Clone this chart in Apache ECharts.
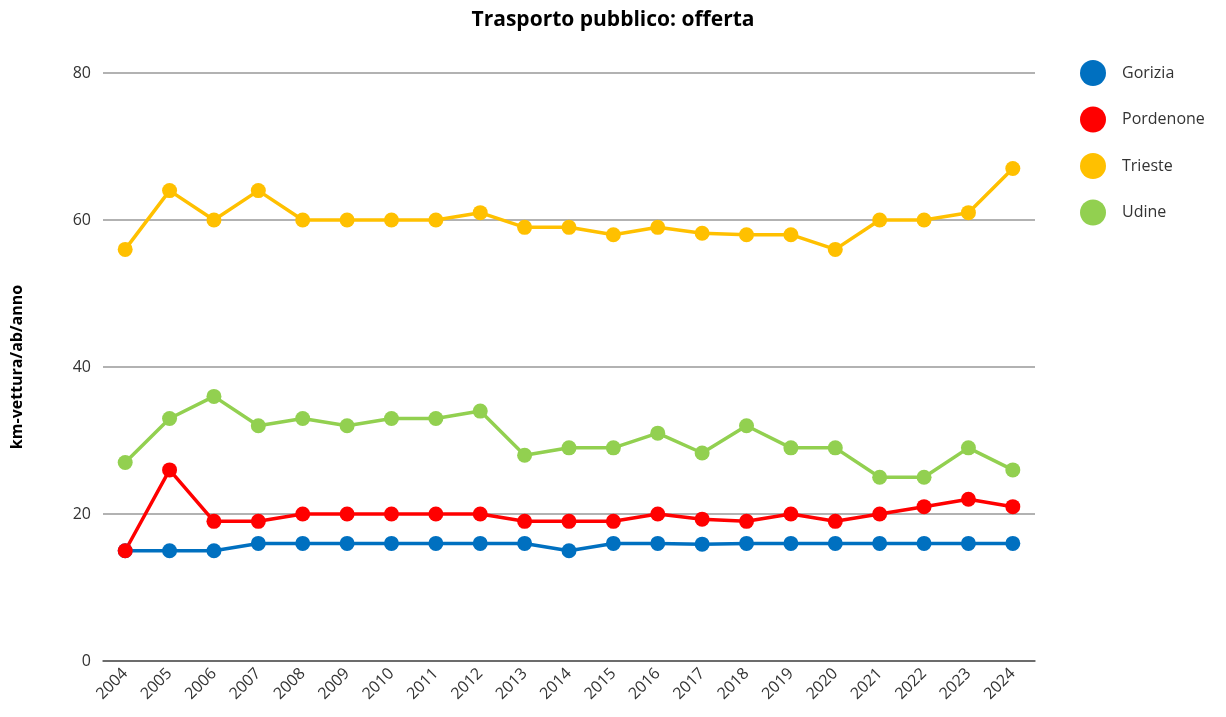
<!DOCTYPE html>
<html>
<head>
<meta charset="utf-8">
<script src="https://cdn.jsdelivr.net/npm/echarts@6/dist/echarts.min.js"></script>
<style>html,body{margin:0;padding:0;background:#fff}#c{width:1226px;height:717px}</style>
</head>
<body>
<div id="c"></div>
<script>
const years = ['2004','2005','2006','2007','2008','2009','2010','2011','2012','2013','2014','2015','2016','2017','2018','2019','2020','2021','2022','2023','2024'];
const gorizia   = [15,15,15,16,16,16,16,16,16,16,15,16,16,15.9,16,16,16,16,16,16,16];
const pordenone = [15,26,19,19,20,20,20,20,20,19,19,19,20,19.3,19,20,19,20,21,22,21];
const trieste   = [56,64,60,64,60,60,60,60,61,59,59,58,59,58.2,58,58,56,60,60,61,67];
const udine     = [27,33,36,32,33,32,33,33,34,28,29,29,31,28.3,32,29,29,25,25,29,26];
const seriesNames = ['Gorizia','Pordenone','Trieste','Udine'];
const colors = ['#0070C0','#FF0000','#FFC000','#92D050'];
const yTicks = {min:0, max:80, interval:20};

const font = '"Open Sans", "Noto Sans", sans-serif';
const chart = echarts.init(document.getElementById('c'), null, {renderer:'canvas'});
const mk = (name, data, color) => ({
  name, type:'line', data, color,
  symbol:'circle', symbolSize:15,
  lineStyle:{width:3.5, color},
  itemStyle:{color},
  emphasis:{disabled:true}
});
chart.setOption({
  animation:false,
  title:{text:'Trasporto pubblico: offerta', left:'center', top:5,
    textStyle:{fontFamily:font, fontSize:21, fontWeight:'bold', color:'#000'}},
  legend:{orient:'vertical', left:1075, top:55, icon:'circle', itemWidth:26, itemHeight:26, itemGap:20.5,
    data:seriesNames,
    textStyle:{fontFamily:font, fontSize:16, color:'#333', padding:[0,0,0,11]}},
  grid:{left:103, right:191, top:73, bottom:56, containLabel:false},
  xAxis:{type:'category', data:years, boundaryGap:true,
    axisLine:{lineStyle:{color:'#555', width:1.5}},
    axisTick:{show:false},
    axisLabel:{rotate:45, fontFamily:font, fontSize:16, color:'#333', margin:10, interval:0}},
  yAxis:{type:'value', min:yTicks.min, max:yTicks.max, interval:yTicks.interval,
    name:'km-vettura/ab/anno', nameLocation:'middle', nameGap:78, nameRotate:90,
    nameTextStyle:{fontFamily:font, fontSize:16, fontWeight:'bold', color:'#000'},
    axisLine:{show:false}, axisTick:{show:false},
    axisLabel:{fontFamily:font, fontSize:16, color:'#333', margin:12},
    splitLine:{lineStyle:{color:'#999', width:1.5}}},
  series:[mk('Gorizia',gorizia,colors[0]), mk('Pordenone',pordenone,colors[1]), mk('Trieste',trieste,colors[2]), mk('Udine',udine,colors[3])]
});
</script>
</body>
</html>
